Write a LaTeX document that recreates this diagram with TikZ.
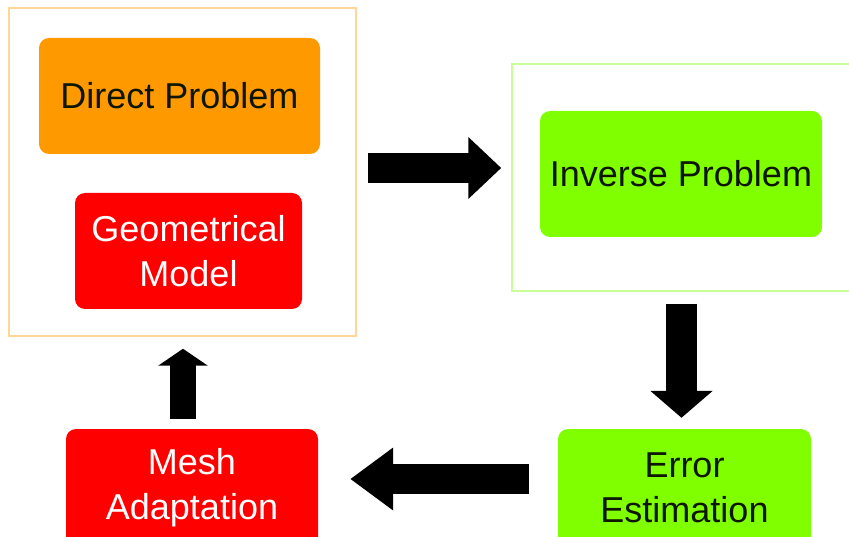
\documentclass[tikz,border=0pt]{standalone}
\usepackage{fontspec}
\setmainfont{Liberation Sans}
\usepackage{tikz}
\usetikzlibrary{positioning, arrows.meta, calc}
\definecolor{directcolor}{RGB}{255,153,0}
\definecolor{geomcolor}{RGB}{255,0,0}
\definecolor{invcolor}{RGB}{128,255,0}
\definecolor{leftframecolor}{RGB}{255,214,150}
\definecolor{rightframecolor}{RGB}{200,255,150}
\definecolor{darktext}{RGB}{12,22,0}

\tikzset{
    stagebox/.style={draw=none, rectangle, rounded corners=10pt, inner sep=0pt, align=center,
        font=\fontsize{36}{45}\selectfont},
    fatarrow/.style n args={3}{line width=#1, -{Triangle[length=#2, width=#3]}}
}

\begin{document}
\begin{tikzpicture}[x=1pt, y=1pt]
    \clip (0,0) rectangle (849,536);
    \fill[white] (0,0) rectangle (849,536);

    % Cadres
    \node[draw=leftframecolor, line width=1.5pt, minimum width=347pt, minimum height=328pt] (frameL) at (182.5,364) {};
    \node[draw=rightframecolor, line width=1.5pt, minimum width=368pt, minimum height=227pt] (frameR) at (696,358.5) {};

    % Colonne gauche
    \node[stagebox, fill=directcolor, text=darktext, minimum width=281pt, minimum height=116pt] (direct) at (179.5,440) {Direct Problem};
    \node[stagebox, fill=geomcolor, text=white, minimum width=227pt, minimum height=116pt] (geom) at (188.5,285) {Geometrical\\Model};

    % Colonne droite
    \node[stagebox, fill=invcolor, text=darktext, minimum width=282pt, minimum height=126pt] (inv) at (681,362) {Inverse Problem};
    \node[stagebox, fill=invcolor, text=darktext, minimum width=253pt, minimum height=118pt] (err) at (684.5,48) {Error\\Estimation};

    % Bas
    \node[stagebox, fill=geomcolor, text=white, minimum width=252pt, minimum height=118pt] (mesh) at (192,48) {Mesh\\Adaptation};

    % Flèches
    \draw[fatarrow={30pt}{33pt}{60pt}] ($(frameL.east)+(11,4)$) -- ($(frameR.west |- frameL.east)+(-10,4)$);
    \draw[fatarrow={31pt}{27pt}{61pt}] ($(frameR.south -| inv.south)+(0.5,-12)$) -- ($(err.north -| inv.south)+(0.5,11)$);
    \draw[fatarrow={30pt}{43pt}{60pt}] ($(err.west)+(-29,9)$) -- ($(mesh.east)+(32,9)$);
    \draw[fatarrow={26pt}{17pt}{49pt}] ($(mesh.north)+(-9,10)$) -- ($(frameL.south -| mesh.north)+(-9,-12)$);
\end{tikzpicture}
\end{document}
